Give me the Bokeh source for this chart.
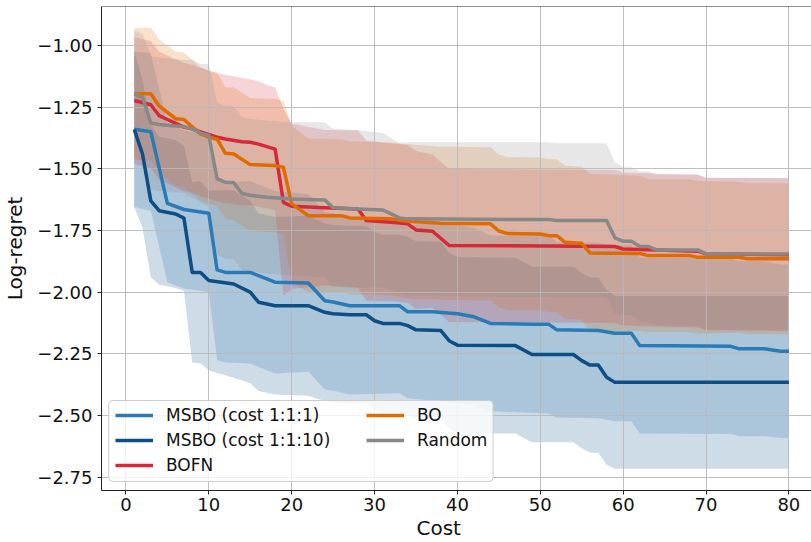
import numpy as np
from bokeh.plotting import figure
from bokeh.models import (Legend, LegendItem, FixedTicker, CustomJSTickFormatter,
                          Span, Title, BoxAnnotation)
from bokeh.embed import file_html
from bokeh.resources import INLINE

# ---------------- data ----------------
series_names = ["MSBO (cost 1:1:1)", "MSBO (cost 1:1:10)", "BOFN", "BO", "Random"]

msbo1_x = [1, 3, 5, 7, 10, 11, 12, 15, 18, 22, 24, 25, 27, 33, 34, 37, 40, 42, 44, 49, 51, 52,
           57, 59, 61, 62, 73, 74, 77, 79, 80]
msbo1_mean = [-1.34, -1.35, -1.64, -1.665, -1.68, -1.91, -1.92, -1.92, -1.96, -1.963, -2.035,
              -2.04, -2.055, -2.055, -2.08, -2.08, -2.088, -2.10, -2.127, -2.13, -2.13, -2.153,
              -2.156, -2.167, -2.167, -2.217, -2.22, -2.23, -2.23, -2.24, -2.24]
msbo1_std = [0.315, 0.32, 0.32, 0.32, 0.32, 0.365, 0.365, 0.37, 0.37, 0.36, 0.36, 0.36, 0.36,
             0.355, 0.35, 0.36, 0.36, 0.36, 0.356, 0.36, 0.362, 0.355, 0.356, 0.357, 0.357,
             0.356, 0.355, 0.355, 0.355, 0.352, 0.352]

msbo10_x = [1, 2, 3, 4, 6, 7, 8, 9, 10, 13, 15, 16, 18, 22, 24, 25, 27, 29, 30, 31, 33, 34, 35,
            38, 39, 40, 47, 49, 54, 55, 56, 57, 58, 59, 80]
msbo10_mean = [-1.34, -1.44, -1.63, -1.67, -1.683, -1.70, -1.92, -1.92, -1.953, -1.967, -2.0,
               -2.041, -2.055, -2.055, -2.082, -2.088, -2.092, -2.092, -2.116, -2.127, -2.127,
               -2.136, -2.153, -2.156, -2.197, -2.215, -2.217, -2.253, -2.253, -2.278, -2.296,
               -2.296, -2.345, -2.366, -2.366]
msbo10_std = [0.315, 0.30, 0.31, 0.30, 0.30, 0.295, 0.365, 0.37, 0.365, 0.38, 0.37, 0.36, 0.36,
              0.365, 0.36, 0.36, 0.36, 0.36, 0.36, 0.36, 0.36, 0.36, 0.36, 0.36, 0.357, 0.357,
              0.356, 0.356, 0.356, 0.355, 0.355, 0.355, 0.355, 0.35, 0.35]

bofn_x = [1, 3, 4, 5, 7, 8, 9, 11, 12, 14, 15, 16, 17, 18, 19, 20, 24, 28, 29, 32, 34, 35, 37,
          39, 51, 59, 60, 69, 70, 80]
bofn_mean = [-1.223, -1.24, -1.284, -1.30, -1.331, -1.338, -1.35, -1.372, -1.379, -1.39, -1.392,
             -1.40, -1.41, -1.42, -1.636, -1.652, -1.658, -1.663, -1.71, -1.717, -1.723, -1.748,
             -1.753, -1.811, -1.813, -1.815, -1.825, -1.834, -1.845, -1.848]
bofn_std = [0.257, 0.257, 0.26, 0.26, 0.26, 0.26, 0.26, 0.26, 0.26, 0.258, 0.255, 0.255, 0.25,
            0.25, 0.38, 0.335, 0.315, 0.318, 0.325, 0.32, 0.32, 0.32, 0.31, 0.31, 0.31, 0.31,
            0.31, 0.31, 0.31, 0.31]

bo_x = [1, 3, 4, 6, 7, 8, 9, 10, 11, 12, 13, 15, 18, 19, 20, 22, 26, 27, 32, 34, 38, 44, 45, 46,
        50, 51, 52, 53, 55, 56, 62, 63, 68, 69, 74, 75, 80]
bo_mean = [-1.196, -1.196, -1.245, -1.297, -1.30, -1.33, -1.358, -1.372, -1.38, -1.437, -1.44,
           -1.483, -1.487, -1.494, -1.642, -1.69, -1.69, -1.699, -1.703, -1.713, -1.721, -1.723,
           -1.752, -1.762, -1.764, -1.771, -1.771, -1.798, -1.802, -1.841, -1.843, -1.852,
           -1.852, -1.859, -1.859, -1.865, -1.865]
bo_std = [0.268, 0.268, 0.27, 0.272, 0.272, 0.272, 0.27, 0.27, 0.27, 0.268, 0.27, 0.27, 0.27,
          0.27, 0.317, 0.312, 0.31, 0.31, 0.31, 0.313, 0.31, 0.31, 0.31, 0.31, 0.31, 0.31, 0.31,
          0.31, 0.31, 0.32, 0.315, 0.31, 0.31, 0.31, 0.306, 0.306, 0.306]

rand_x = [1, 2, 3, 4, 7, 8, 9, 10, 11, 12, 13, 14, 15, 17, 20, 24, 25, 28, 31, 32, 33, 34, 51,
          52, 58, 59, 60, 61, 62, 63, 64, 69, 70, 80]
rand_mean = [-1.196, -1.21, -1.314, -1.32, -1.329, -1.338, -1.355, -1.365, -1.54, -1.555,
             -1.556, -1.60, -1.607, -1.615, -1.622, -1.626, -1.658, -1.663, -1.667, -1.683,
             -1.699, -1.703, -1.706, -1.71, -1.71, -1.78, -1.794, -1.794, -1.815, -1.815,
             -1.829, -1.829, -1.845, -1.845]
rand_std = [0.257, 0.257, 0.27, 0.27, 0.27, 0.28, 0.28, 0.29, 0.31, 0.31, 0.31, 0.31, 0.31, 0.31,
            0.311, 0.315, 0.32, 0.32, 0.312, 0.308, 0.305, 0.311, 0.314, 0.314, 0.314, 0.307,
            0.30, 0.30, 0.305, 0.305, 0.305, 0.306, 0.308, 0.308]

x_ticks = [0, 10, 20, 30, 40, 50, 60, 70, 80]
y_ticks = [-1.00, -1.25, -1.50, -1.75, -2.00, -2.25, -2.50, -2.75]

colors = ["#2a7ab6", "#0c4e85", "#d62839", "#e06b00", "#888888"]

all_x = [msbo1_x, msbo10_x, bofn_x, bo_x, rand_x]
all_mean = [msbo1_mean, msbo10_mean, bofn_mean, bo_mean, rand_mean]
all_std = [msbo1_std, msbo10_std, bofn_std, bo_std, rand_std]

FONT = "DejaVu Sans"

p = figure(width=811, height=542, x_range=(-2.95, 82.73), y_range=(-2.8045, -0.8418),
           output_backend="svg", toolbar_location=None, title=None,
           min_border_left=100, min_border_right=0, min_border_top=6, min_border_bottom=52)
p.outline_line_color = None
p.background_fill_color = "white"
p.border_fill_color = "white"

# bands (below grid)
for xs, m, s, c in zip(all_x, all_mean, all_std, colors):
    xs = np.array(xs, dtype=float)
    m = np.array(m)
    s = np.array(s)
    p.varea(x=xs, y1=m - s, y2=m + s, fill_color=c, fill_alpha=0.2, level="image")

# lines
line_renderers = []
for xs, m, c in zip(all_x, all_mean, colors):
    r = p.line(x=xs, y=m, line_color=c, line_width=3.5, line_join="round")
    line_renderers.append(r)

# axes styling
for ax in (p.xaxis[0], p.yaxis[0]):
    ax.axis_line_color = "#222222"
    ax.axis_line_width = 1
    ax.major_tick_line_color = "#222222"
    ax.major_tick_out = 4
    ax.major_tick_in = 0
    ax.minor_tick_out = 0
    ax.minor_tick_in = 0
    ax.major_label_text_font = FONT
    ax.major_label_text_font_size = "18px"
    ax.major_label_text_color = "#111111"
    ax.major_label_standoff = 5
p.xaxis.major_label_standoff = 3

p.xaxis.ticker = FixedTicker(ticks=x_ticks)
p.yaxis.ticker = FixedTicker(ticks=y_ticks)
p.yaxis.formatter = CustomJSTickFormatter(
    code="return (tick < 0 ? '\\u2212' : '') + Math.abs(tick).toFixed(2);")
p.xaxis.formatter = CustomJSTickFormatter(code="return tick.toFixed(0);")

p.yaxis.axis_label = "Log-regret"
p.yaxis.axis_label_text_font = FONT
p.yaxis.axis_label_text_font_size = "20px"
p.yaxis.axis_label_text_font_style = "normal"
p.yaxis.axis_label_text_color = "#111111"
p.yaxis.axis_label_standoff = 7

# grid
for g in (p.xgrid[0], p.ygrid[0]):
    g.grid_line_color = "#b8b8b8"
    g.grid_line_width = 1
    g.grid_line_alpha = 0.9
    g.level = "underlay"

# top spine
p.add_layout(Span(location=-0.8418, dimension="width", line_color="#222222", line_width=1))

# x label (as a bottom title, so that it can sit off-centre like the reference)
xlab = Title(text="Cost", align="left", offset=315, text_font=FONT, text_font_size="20px",
             text_font_style="normal", text_color="#111111", standoff=0)
p.add_layout(xlab, "below")

# legend frame
p.add_layout(BoxAnnotation(left=-2.08, right=44.3, top=-2.4396, bottom=-2.768,
                           fill_color="white", fill_alpha=0.8, line_color="#cccccc",
                           line_width=1, line_alpha=1.0, border_radius=4))

def make_legend(items, loc):
    leg = Legend(items=items, location=loc, orientation="vertical")
    leg.background_fill_alpha = 0
    leg.border_line_color = None
    leg.label_text_font = FONT
    leg.label_text_font_size = "17px"
    leg.label_text_color = "#111111"
    leg.glyph_width = 38
    leg.glyph_height = 20
    leg.label_height = 20
    leg.label_standoff = 13
    leg.spacing = 5
    leg.padding = 0
    leg.margin = 0
    return leg

items = [LegendItem(label=n, renderers=[r]) for n, r in zip(series_names, line_renderers)]
p.add_layout(make_legend(items[:3], (14, 15)))
p.add_layout(make_legend(items[3:], (265, 40)))

open("out.html", "w").write(file_html(p, INLINE))
